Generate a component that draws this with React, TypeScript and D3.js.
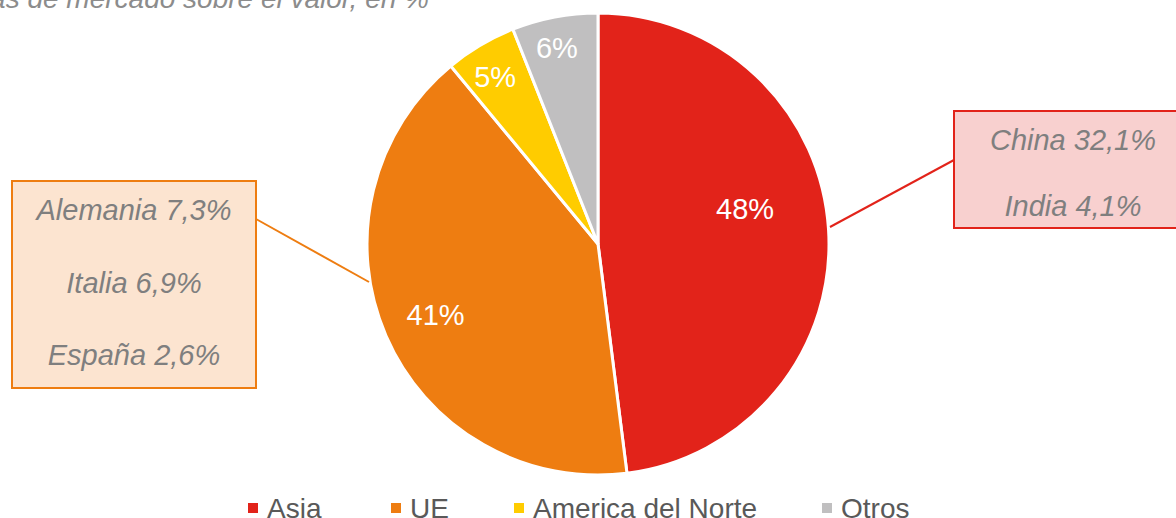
import React, { useRef, useEffect } from 'react';
import * as d3 from 'd3';

const regions = ['Asia', 'UE', 'America del Norte', 'Otros'];
const shares = [48, 41, 5, 6];
const colors = ['#E2231A', '#EE7D11', '#FFCC00', '#C0BFC0'];

const ueDetail = ['Alemania 7,3%', 'Italia 6,9%', 'España 2,6%'];
const asiaDetail = ['China 32,1%', 'India 4,1%'];

const title = 'Cuotas de mercado sobre el valor, en %';

const App: React.FC = () => {
  const svgRef = useRef<SVGSVGElement>(null);

  useEffect(() => {
    if (!svgRef.current) return;
    const width = 1176;
    const height = 518;
    const cx = 598;
    const cy = 244;
    const r = 231;

    const svg = d3.select(svgRef.current);
    svg.selectAll('*').remove();
    svg.attr('width', width).attr('height', height);

    const font = 'Liberation Sans, Arial, sans-serif';

    // title, cut off by the top edge like in the source
    svg.append('text')
      .attr('x', 429)
      .attr('y', 8)
      .attr('text-anchor', 'end')
      .attr('font-family', font)
      .attr('font-style', 'italic')
      .attr('font-size', 28)
      .attr('fill', '#8C8C8C')
      .text(title);

    const pie = d3.pie<number>().sort(null).value(d => d);
    const arcs = pie(shares);
    const arc = d3.arc<d3.PieArcDatum<number>>().innerRadius(0).outerRadius(r);

    const g = svg.append('g').attr('transform', `translate(${cx},${cy})`);
    g.selectAll('path')
      .data(arcs)
      .join('path')
      .attr('d', arc)
      .attr('fill', (_, i) => colors[i])
      .attr('stroke', '#fff')
      .attr('stroke-width', 3);

    // label distance (fraction of radius) and angle nudge (deg)
    const labelDist = [0.655, 0.766, 0.85, 0.87];
    const labelNudge = [-10, 0, -1, -1];
    g.selectAll('text.lbl')
      .data(arcs)
      .join('text')
      .attr('class', 'lbl')
      .attr('transform', (d, i) => {
        const a = (d.startAngle + d.endAngle) / 2 + (labelNudge[i] * Math.PI) / 180;
        const rr = labelDist[i] * r;
        return `translate(${Math.sin(a) * rr},${-Math.cos(a) * rr})`;
      })
      .attr('text-anchor', 'middle')
      .attr('dy', '0.36em')
      .attr('font-family', font)
      .attr('font-size', 29)
      .attr('fill', '#fff')
      .text(d => `${d.data}%`);

    // callout boxes
    const drawBox = (
      x: number, y: number, w: number, h: number,
      fill: string, stroke: string, lines: string[], lineYs: number[],
      from: [number, number], to: [number, number]
    ) => {
      svg.append('line')
        .attr('x1', from[0]).attr('y1', from[1])
        .attr('x2', to[0]).attr('y2', to[1])
        .attr('stroke', stroke).attr('stroke-width', 2);
      svg.append('rect')
        .attr('x', x).attr('y', y).attr('width', w).attr('height', h)
        .attr('fill', fill).attr('stroke', stroke).attr('stroke-width', 2);
      svg.selectAll(null)
        .data(lines)
        .enter()
        .append('text')
        .attr('x', x + w / 2)
        .attr('y', (_, i) => lineYs[i])
        .attr('dy', '0.36em')
        .attr('text-anchor', 'middle')
        .attr('font-family', font)
        .attr('font-style', 'italic')
        .attr('font-size', 29)
        .attr('fill', '#7F7F7F')
        .text(d => d);
    };

    drawBox(12, 181, 244, 207, '#FCE4D0', '#EE7D11', ueDetail, [210, 283, 355], [256, 219], [369, 282]);
    drawBox(954, 111, 238, 117, '#F8D0CF', '#E2231A', asiaDetail, [140, 206], [954, 160], [830, 227]);

    // legend (cut by bottom edge as in the source)
    const legendX = [248, 391, 514, 822];
    const legend = svg.append('g');
    regions.forEach((name, i) => {
      legend.append('rect')
        .attr('x', legendX[i]).attr('y', 503)
        .attr('width', 10).attr('height', 10)
        .attr('fill', colors[i]);
      legend.append('text')
        .attr('x', legendX[i] + 19).attr('y', 518)
        .attr('font-family', font)
        .attr('font-size', 28)
        .attr('fill', '#595959')
        .text(name);
    });
  }, []);

  return (
    <div style={{ position: 'absolute', left: 0, top: 0, background: '#fff' }}>
      <svg ref={svgRef} style={{ display: 'block' }} />
    </div>
  );
};

export default App;
